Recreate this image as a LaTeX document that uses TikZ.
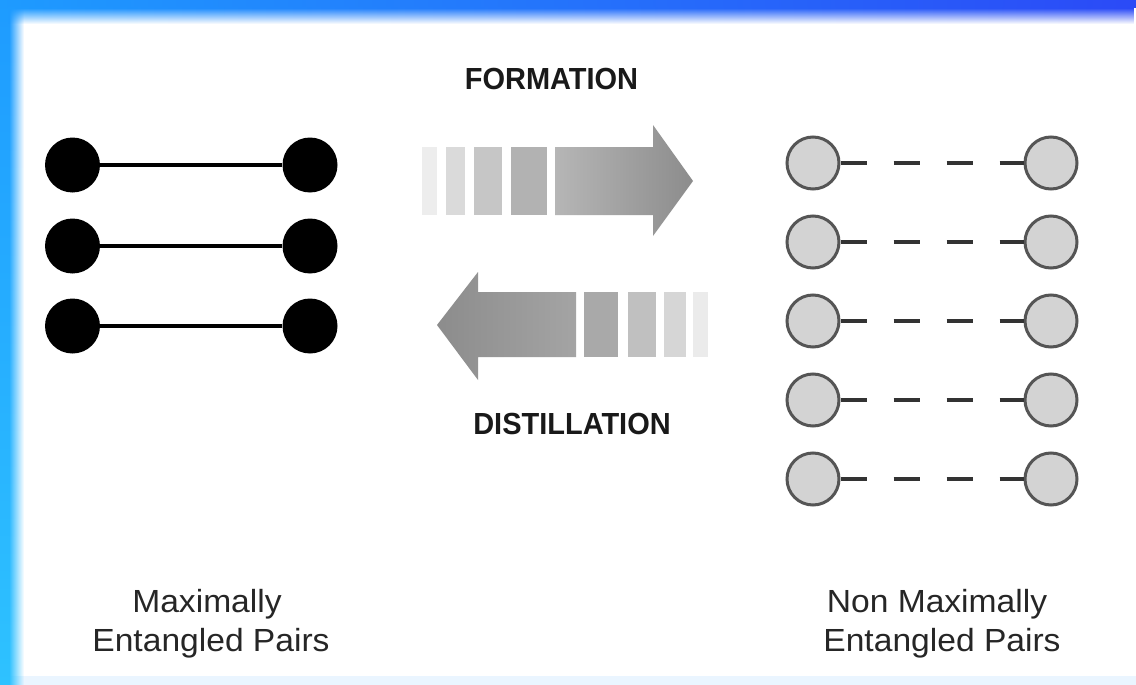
\documentclass[tikz,border=0pt]{standalone}
\usepackage{fontspec}
\setmainfont{Liberation Sans}
\usetikzlibrary{fadings}
\tikzfading[name=fadedown, top color=transparent!0, bottom color=transparent!100]
\tikzfading[name=faderight, left color=transparent!0, right color=transparent!100]
\definecolor{topL}{HTML}{1E9BFF}
\definecolor{topR}{HTML}{2B4AF7}
\definecolor{sideT}{HTML}{1E9BFF}
\definecolor{sideB}{HTML}{2EC2FF}
\definecolor{dotgray}{HTML}{D3D3D3}
\definecolor{dotedge}{HTML}{555555}
\definecolor{stripA}{HTML}{EDEDED}
\definecolor{stripB}{HTML}{DADADA}
\definecolor{stripC}{HTML}{C6C6C6}
\definecolor{stripD}{HTML}{B2B2B2}
\definecolor{bodyL}{HTML}{B6B6B6}
\definecolor{bodyD}{HTML}{8C8C8C}
\definecolor{bodyM}{HTML}{A4A4A4}
\definecolor{stripE}{HTML}{A9A9A9}
\definecolor{stripF}{HTML}{C0C0C0}
\definecolor{stripG}{HTML}{D6D6D6}
\definecolor{stripH}{HTML}{EBEBEB}
\definecolor{bottomblue}{HTML}{EAF5FF}
\begin{document}
\begin{tikzpicture}[x=1pt,y=-1pt,
  bigdot/.style={circle, fill=black, minimum size=55pt, inner sep=0pt},
  graydot/.style={circle, fill=dotgray, draw=dotedge, line width=3pt, minimum size=52pt, inner sep=0pt},
  solidlink/.style={line width=3.5pt, draw=black},
  dashlink/.style={line width=4pt, draw=black!80, dash pattern=on 26.5pt off 26.5pt},
  lbl/.style={font=\fontsize{32}{32}\selectfont, text=black!85, inner sep=0pt, anchor=base},
  boldlbl/.style={font=\bfseries\fontsize{30.5}{30.5}\selectfont, text=black!90, inner sep=0pt, anchor=base}
]
\useasboundingbox (0,0) rectangle (1136,685);
\fill[white] (0,0) rectangle (1136,685);
% frame glow
\fill[bottomblue] (0,676) rectangle (1136,685);
\shade[top color=sideT, bottom color=sideB] (0,0) rectangle (9,685);
\shade[top color=sideT, bottom color=sideB, path fading=faderight] (9,0) rectangle (24,685);
\shade[left color=topL, right color=topR] (0,0) rectangle (1136,8);
\shade[left color=topL, right color=topR, path fading=fadedown] (9,8) rectangle (1136,24);

% maximally entangled pairs
\foreach \i/\yy in {1/165,2/246,3/326}{
  \node[bigdot] (ml\i) at (72.5,\yy) {};
  \node[bigdot] (mr\i) at (310,\yy) {};
  \draw[solidlink] (ml\i) -- (mr\i);
}

% non maximally entangled pairs
\foreach \i/\yy in {1/163,2/242,3/321,4/400,5/479}{
  \node[graydot] (nl\i) at (813,\yy) {};
  \node[graydot] (nr\i) at (1051,\yy) {};
  \draw[dashlink] (nl\i) -- (nr\i);
}

% formation arrow
\fill[stripA] (422,147) rectangle (437,215);
\fill[stripB] (446,147) rectangle (465,215);
\fill[stripC] (474,147) rectangle (502,215);
\fill[stripD] (511,147) rectangle (547,215);
\shade[left color=bodyL, right color=bodyD]
  (555,147) -- (653,147) -- (653,125) -- (693,181) -- (653,236) -- (653,215) -- (555,215) -- cycle;

% distillation arrow
\shade[left color=bodyD, right color=bodyM]
  (576,292) -- (478,292) -- (478,272) -- (437,325) -- (478,380) -- (478,357) -- (576,357) -- cycle;
\fill[stripE] (584,292) rectangle (618,357);
\fill[stripF] (628,292) rectangle (656,357);
\fill[stripG] (664,292) rectangle (686,357);
\fill[stripH] (693,292) rectangle (708,357);

% labels
\node[boldlbl] (form) at (551.5,89) {\scalebox{0.95}[1]{FORMATION}};
\node[boldlbl] (dist) at (572,434) {\scalebox{0.95}[1]{DISTILLATION}};
\node[lbl] (maxA) at (207,612) {\scalebox{1.05}[1]{Maximally}};
\node[lbl] (maxB) at (211,651) {\scalebox{1.05}[1]{Entangled Pairs}};
\node[lbl] (nonA) at (937,612) {\scalebox{1.05}[1]{Non Maximally}};
\node[lbl] (nonB) at (942,651) {\scalebox{1.05}[1]{Entangled Pairs}};
\end{tikzpicture}
\end{document}
